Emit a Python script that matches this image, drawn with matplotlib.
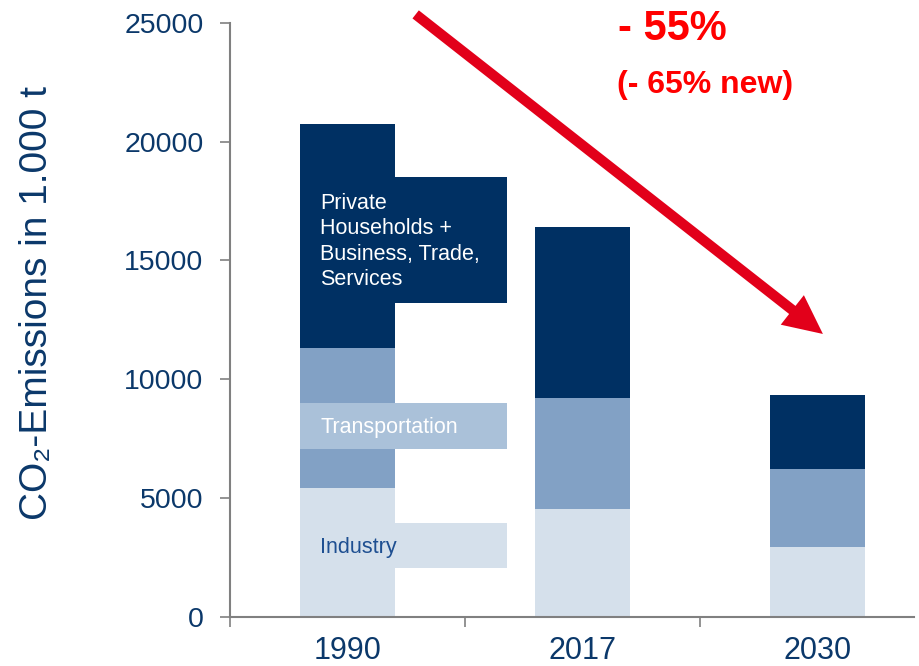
import matplotlib
matplotlib.use("Agg")
import matplotlib.pyplot as plt
from matplotlib.patches import Rectangle, FancyArrowPatch

years = ['1990', '2017', '2030']
industry = [5430, 4530, 2930]
transport = [5880, 4670, 3290]
private = [9430, 7200, 3110]
series_labels = ['Industry', 'Transportation', 'Private\nHouseholds +\nBusiness, Trade,\nServices']
yticks = [0, 5000, 10000, 15000, 20000, 25000]

NAVY = '#003063'
MED = '#82a1c5'
LIGHT = '#d5e0eb'
TBOX = '#aac1d9'
TXT = '#0b386a'
RED_ARROW = '#e2001a'

fig = plt.figure(figsize=(9.19, 6.66), dpi=100)
W, H = 919, 666
ax = fig.add_axes([230 / W, (H - 616.7) / H, (914 - 230) / W, (616.7 - 22.7) / H])

x = list(range(len(years)))
bw = 0.408
b1 = industry
b2 = [a + b for a, b in zip(industry, transport)]
ax.bar(x, industry, width=bw, color=LIGHT, zorder=2)
ax.bar(x, transport, width=bw, bottom=b1, color=MED, zorder=2)
ax.bar(x, private, width=bw, bottom=b2, color=NAVY, zorder=2)

ax.set_ylim(0, 25000)
ax.set_xlim(-0.5, -0.5 + 684 / 235)
ax.set_yticks(yticks)
ax.set_yticklabels([str(v) for v in yticks])
ax.set_xticks(x)
ax.set_xticklabels(years)
ax.set_xticks([-0.5, 0.5, 1.5], minor=True)

for s in ['top', 'right']:
    ax.spines[s].set_visible(False)
for s in ['left', 'bottom']:
    ax.spines[s].set_color('#808080')
    ax.spines[s].set_linewidth(1.5)

ax.tick_params(axis='y', direction='out', length=7, width=1.2, color='#808080',
               labelsize=20.5, labelcolor=TXT, pad=12)
ax.tick_params(axis='x', which='major', length=0, labelsize=22, labelcolor=TXT, pad=14)
ax.tick_params(axis='x', which='minor', direction='out', length=7, width=1.2, color='#808080')
for lab in ax.get_yticklabels():
    lab.set_family(['Liberation Sans', 'DejaVu Sans'])
for lab in ax.get_xticklabels():
    lab.set_family(['Liberation Sans Narrow', 'Liberation Sans', 'DejaVu Sans'])

# label boxes
bx0, bx1 = -0.204, 0.677
boxes = [
    (2040, 3940, LIGHT, '#1e4f91', series_labels[0]),
    (7060, 8990, TBOX, 'white', series_labels[1]),
    (13200, 18500, NAVY, 'white', series_labels[2]),
]
for y0, y1, fc, tc, txt in boxes:
    ax.add_patch(Rectangle((bx0, y0), bx1 - bx0, y1 - y0, facecolor=fc, edgecolor='none', zorder=3))
    ax.text(-0.115, (y0 + y1) / 2 - 60, txt, color=tc, fontsize=15.5, va='center', ha='left',
            family=['Liberation Sans', 'DejaVu Sans'], linespacing=1.28, zorder=4)

# arrow
arrow = FancyArrowPatch((0.29, 25350), (2.023, 11900),
                        arrowstyle='simple,head_length=28,head_width=27,tail_width=7.4',
                        mutation_scale=1, shrinkA=0, shrinkB=0, color=RED_ARROW, lw=0,
                        clip_on=False, zorder=5)
ax.add_patch(arrow)

fig.text(672 / W, 1 - 29 / H, '- 55%', color='#ff0000', fontsize=30, fontweight='bold',
         ha='center', va='center', family=['Liberation Sans', 'DejaVu Sans'])
fig.text(705 / W, 1 - 85 / H, '(- 65% new)', color='#ff0000', fontsize=23, fontweight='bold',
         ha='center', va='center', family=['Liberation Sans', 'DejaVu Sans'])

fig.text(37 / W, 1 - 303 / H, 'CO\u2082-Emissions in 1.000 t', rotation=90, color=TXT,
         fontsize=28, ha='center', va='center',
         family=['Liberation Sans Narrow', 'Liberation Sans', 'DejaVu Sans'])

fig.savefig('out.png', dpi=100)
